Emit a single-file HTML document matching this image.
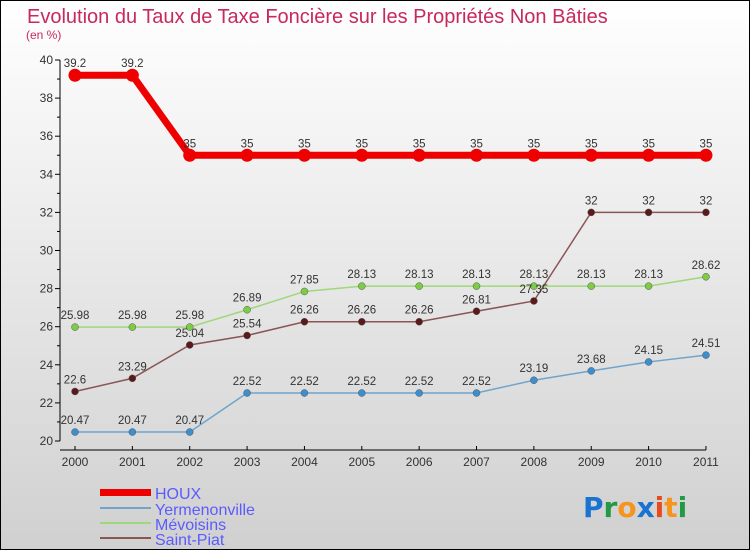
<!DOCTYPE html>
<html><head><meta charset="utf-8"><style>
body{margin:0}
svg{display:block;font-family:"Liberation Sans",sans-serif}
</style></head><body>
<svg id="c" width="750" height="550" viewBox="0 0 750 550">
<defs><linearGradient id="bg" x1="0" y1="0" x2="0" y2="1"><stop offset="0" stop-color="#ffffff"/><stop offset="1" stop-color="#d0d0d0"/></linearGradient></defs>
<rect x="0.5" y="0.5" width="749" height="549" fill="url(#bg)" stroke="#000"/>
<text x="27" y="23" font-size="20" fill="#c8285a">Evolution du Taux de Taxe Foncière sur les Propriétés Non Bâties</text>
<text x="26" y="39" font-size="12" fill="#c8285a">(en %)</text>
<g id="axes"></g><g id="series"></g>
<g>
<rect x="100" y="489" width="51" height="7" fill="#e00"/>
<text x="155" y="499" font-size="16" fill="#5b5bff">HOUX</text>
<line x1="100" y1="508" x2="151" y2="508" stroke="#6fa4cc" stroke-width="2"/>
<text x="155" y="515" font-size="16" fill="#5b5bff">Yermenonville</text>
<line x1="100" y1="523" x2="151" y2="523" stroke="#9fd87a" stroke-width="2"/>
<text x="155" y="530" font-size="16" fill="#5b5bff">Mévoisins</text>
<line x1="100" y1="538" x2="151" y2="538" stroke="#8a5555" stroke-width="2"/>
<text x="155" y="545" font-size="16" fill="#5b5bff">Saint-Piat</text>
</g>
<g font-size="28" font-weight="bold" font-family="'DejaVu Sans',sans-serif">
<text x="583" y="517"><tspan fill="#1a73d0">P</tspan><tspan fill="#229944">r</tspan><tspan fill="#f7941d">o</tspan><tspan fill="#1a73d0">x</tspan><tspan fill="#e8491d">i</tspan><tspan fill="#f7941d">t</tspan><tspan fill="#229944">i</tspan></text>
</g>
</svg>
<script>
const years=["2000","2001","2002","2003","2004","2005","2006","2007","2008","2009","2010","2011"];
const yTicks=[20,22,24,26,28,30,32,34,36,38,40];
const houx=[39.2,39.2,35,35,35,35,35,35,35,35,35,35];
const yermenonville=[20.47,20.47,20.47,22.52,22.52,22.52,22.52,22.52,23.19,23.68,24.15,24.51];
const mevoisins=[25.98,25.98,25.98,26.89,27.85,28.13,28.13,28.13,28.13,28.13,28.13,28.62];
const saintPiat=[22.6,23.29,25.04,25.54,26.26,26.26,26.26,26.81,27.35,32,32,32];
const NS="http://www.w3.org/2000/svg";
const X=i=>75+i*57.36;
const Y=v=>441-(v-20)*19.05;
function mk(t,a,p){const e=document.createElementNS(NS,t);for(const k in a)e.setAttribute(k,a[k]);p.appendChild(e);return e;}
const ax=document.getElementById('axes');
let l=mk('line',{x1:60,y1:Y(40),x2:60,y2:Y(20),stroke:'#000'},ax);


for(let v=20;v<=40;v++){mk('line',{x1:v%2?57:55,y1:Y(v),x2:60,y2:Y(v),stroke:'#000'},ax);}
yTicks.forEach(v=>{const t=mk('text',{x:53,y:Y(v)+4,'font-size':12,fill:'#333','text-anchor':'end'},ax);t.textContent=v;

});
l=mk('line',{x1:60,y1:450,x2:X(11),y2:450,stroke:'#000'},ax);


years.forEach((y,i)=>{mk('line',{x1:X(i),y1:446,x2:X(i),y2:450,stroke:'#000'},ax);
const t=mk('text',{x:X(i),y:466,'font-size':12,fill:'#333','text-anchor':'middle'},ax);t.textContent=y;

});
const sg=document.getElementById('series');
function series(d,name,col,dot,w,r){
const g=mk('g',{},sg);


const p=mk('polyline',{points:d.map((v,i)=>X(i)+','+Y(v)).join(' '),fill:'none',stroke:col,'stroke-width':w},g);


d.forEach((v,i)=>{const c=mk('circle',{cx:X(i),cy:Y(v),r:r,fill:dot,stroke:w>3?'none':'#555','stroke-width':0.5},g);


const t=mk('text',{x:X(i),y:Y(v)-8,'font-size':11.5,fill:'#333','text-anchor':'middle'},g);t.textContent=v;

});}
series(yermenonville,'yermenonville','#6fa4cc','#3c8fcc',1.5,3.5);
series(mevoisins,'mevoisins','#9fd87a','#7ccc44',1.5,3.5);
series(saintPiat,'saint-piat','#8a5555','#5a1a1a',1.5,3.5);
series(houx,'houx','#e00','#e00',7,6.5);
</script>
</body></html>
